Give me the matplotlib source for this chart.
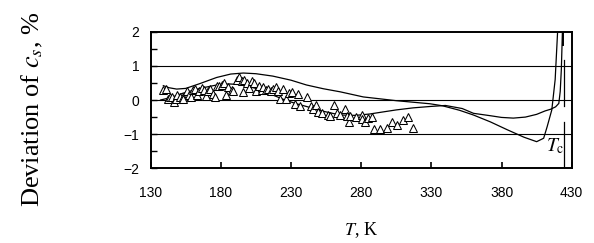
import numpy as np
import matplotlib
matplotlib.use("Agg")
import matplotlib.pyplot as plt
from matplotlib.ticker import MultipleLocator

plt.rcParams['font.family'] = ['Liberation Sans', 'DejaVu Sans']
plt.rcParams['mathtext.fontset'] = 'stix'

# upper curve (goes into the deep dip near Tc)
t_curve1 = [139, 143, 148.5, 155, 165, 177, 187, 196, 205, 217, 230, 241, 253, 265,
            281.5, 305, 329, 338, 350, 360, 372, 384, 396, 405, 410, 412.5, 415.8,
            418.2, 420]
d_curve1 = [0.42, 0.36, 0.32, 0.34, 0.48, 0.66, 0.76, 0.79, 0.77, 0.70, 0.58, 0.44, 0.33, 0.24,
            0.09, -0.02, -0.11, -0.17, -0.30, -0.44, -0.64, -0.87, -1.09, -1.22, -1.12, -0.78, -0.29,
            0.6, 2.05]

# lower curve (shallow dip near Tc)
t_curve2 = [137, 145, 153, 165, 177, 186, 194, 205, 215, 224.5, 233, 241, 253, 265, 276, 286,
            297, 305, 317, 329, 340, 352, 360, 372, 380, 388.4, 397, 405, 411, 415, 418.5,
            420.8, 421.8, 422.6, 423.4]
d_curve2 = [0.0, 0.08, 0.2, 0.34, 0.44, 0.47, 0.45, 0.34, 0.18, 0.02, -0.10, -0.19, -0.33, -0.44,
            -0.45, -0.41, -0.34, -0.29, -0.23, -0.19, -0.16, -0.25, -0.39, -0.46, -0.51, -0.53,
            -0.50, -0.42, -0.32, -0.27, -0.2, -0.1, 0.25, 0.9, 2.05]

# experimental points
t_exp = [139, 141, 142.6, 143.8, 145, 146.6, 148, 149, 151, 152.8, 153.3, 156, 157.5, 158.5,
         160, 161.6, 163.3, 164.7, 166.4, 168, 169.4, 171, 172.3, 174.2, 175.8, 177.5, 178.9,
         180.5, 182.2, 183.6, 185.3, 187.6, 188.9, 191.3, 193.2, 194.8, 196.5, 195.6, 198.4,
         200, 201.9, 203.6, 205, 207.4, 209, 210.3, 212.2, 213.9, 215.5, 217.4, 219.3, 220.9,
         222.1, 224.5, 226.4, 228.8, 230.5, 232.8, 235.2, 236.4, 241.1, 244, 245.9, 247.8,
         249.5, 251.9, 256.6, 257.8, 260.6, 262.6, 264.9, 268.5, 270.1, 271.6, 272, 276.3,
         280.4, 280.4, 282.7, 285.1, 287.5, 289.2, 293.4, 298.6, 302.2, 305.8, 309.6, 313.2,
         317.2]
d_exp = [0.28, 0.32, 0.03, 0.08, 0.10, -0.05, 0.02, 0.15, 0.08, 0.10, 0.02, 0.25, 0.15, 0.08,
         0.30, 0.32, 0.15, 0.25, 0.35, 0.28, 0.12, 0.25, 0.32, 0.18, 0.10, 0.41, 0.41,
         0.44, 0.49, 0.15, 0.37, 0.28, 0.25, 0.59, 0.66, 0.57, 0.59, 0.22, 0.49,
         0.34, 0.57, 0.51, 0.25, 0.41, 0.30, 0.37, 0.28, 0.32, 0.25, 0.32, 0.37, 0.25,
         0.03, 0.32, 0.03, 0.20, 0.22, -0.12, 0.18, -0.17, 0.08, -0.19, -0.27, -0.14,
         -0.34, -0.39, -0.44, -0.48, -0.14, -0.39, -0.44, -0.27, -0.46, -0.63, -0.46, -0.49,
         -0.44, -0.56, -0.63, -0.53, -0.49, -0.86, -0.86, -0.83, -0.63, -0.73, -0.60, -0.49,
         -0.81]

# critical temperature marker line pieces
t_crit = 424.5
crit_segments = [(1.17, -0.19), (-0.63, -2.0)]

fig = plt.figure(figsize=(5.94, 2.43), dpi=100)
ax = fig.add_axes([0.2537, 0.3074, 0.9625 - 0.2537, 0.8695 - 0.3074])

for yv in [-1, 0, 1]:
    ax.axhline(yv, color='black', lw=0.8, zorder=1)

ax.plot(t_curve1, d_curve1, color='black', lw=0.9, zorder=2)
ax.plot(t_curve2, d_curve2, color='black', lw=0.9, zorder=2)
for y0, y1 in crit_segments:
    ax.plot([t_crit, t_crit], [y0, y1], color='black', lw=0.9, zorder=2)
ax.plot([424.1, 424.1], [2.0, 1.6], color='black', lw=1.4, zorder=2)

ax.plot(t_exp, d_exp, linestyle='none', marker='^', markersize=5.5,
        markerfacecolor='white', markeredgecolor='black', markeredgewidth=0.75, zorder=3)

ax.text(411.5, -1.36, '$T_{\\mathrm{c}}$', fontsize=14, va='center', ha='left')

ax.set_xlim(130, 430)
ax.set_ylim(-2, 2)
ax.set_xticks(range(130, 431, 50))
ax.set_yticks([-2, -1, 0, 1, 2])
ax.yaxis.set_minor_locator(MultipleLocator(0.5))
ax.tick_params(axis='x', direction='in', length=4, width=1.2, pad=13, labelsize=10)
ax.tick_params(axis='y', which='major', direction='in', length=4, width=1.0, pad=8, labelsize=10)
ax.tick_params(axis='y', which='minor', direction='in', length=4, width=1.0)
for s in ax.spines.values():
    s.set_linewidth(1.4)

ax.set_xlabel('$T$, K', fontsize=13, family='Liberation Serif', labelpad=14)
fig.text(0.054, 0.55, 'Deviation of $c_s$, %', rotation=90, fontsize=19,
         family='Liberation Serif', ha='center', va='center')

fig.savefig('out.png', dpi=100)
